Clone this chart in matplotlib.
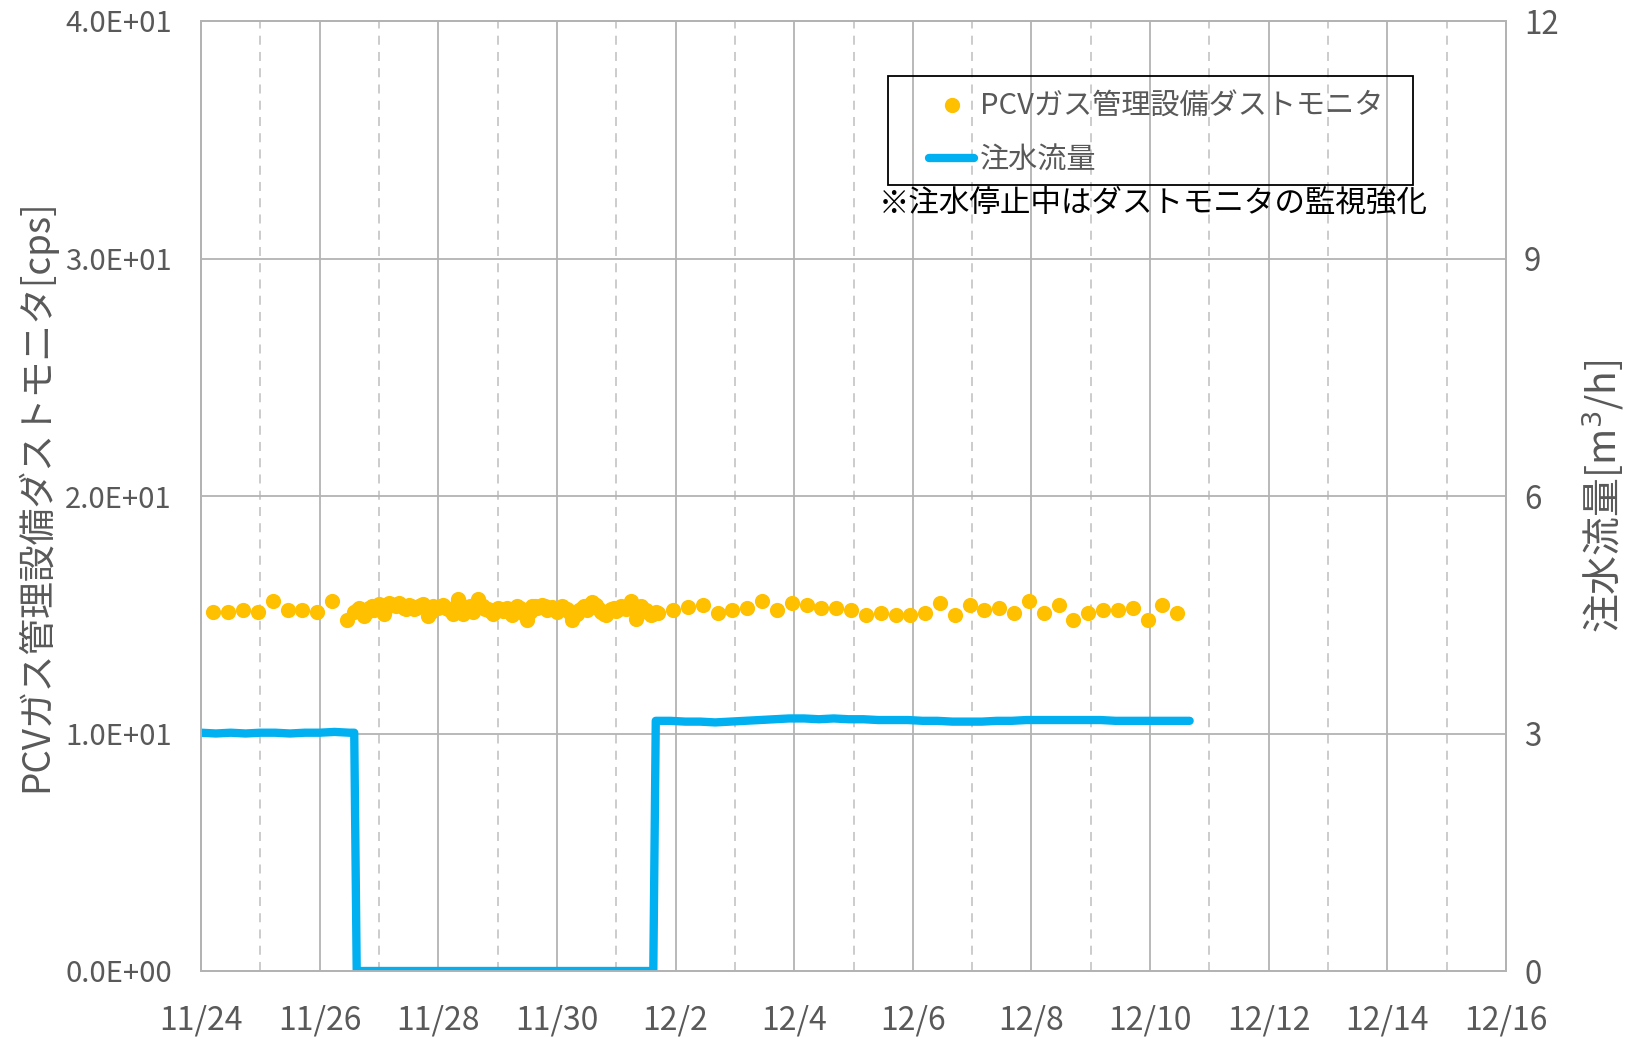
import matplotlib
matplotlib.use("Agg")
import matplotlib.pyplot as plt
import matplotlib.dates as mdates
from matplotlib.ticker import FixedLocator, FuncFormatter
from matplotlib.lines import Line2D
from matplotlib.patches import Rectangle
import pandas as pd

plt.rcParams['font.family'] = ['Noto Sans CJK JP', 'DejaVu Sans']

START = pd.Timestamp("2019-11-24 00:00")

# ---- dust monitor (cps), hours since 11/24 00:00 ----
dust_early_hours = [5, 11, 17, 23, 29, 35, 41, 47, 53, 59]
dust_early = [15.10, 15.10, 15.19, 15.10, 15.59, 15.19, 15.19, 15.10, 15.59, 14.77]

dust_dense_hours = list(range(62, 185))
dust_dense = [15.10, 15.20, 15.28, 15.22, 14.95, 15.10, 15.30, 15.35, 15.22, 15.30, 15.45, 15.38,
              15.05, 15.30, 15.50, 15.45, 15.40, 15.35, 15.48, 15.40, 15.30, 15.25, 15.42, 15.35,
              15.25, 15.30, 15.35, 15.40, 15.45, 15.30, 14.95, 15.10, 15.38, 15.30, 15.30, 15.35,
              15.42, 15.30, 15.25, 15.15, 15.05, 15.35, 15.65, 15.40, 15.02, 15.10, 15.30, 15.35,
              15.10, 15.40, 15.66, 15.45, 15.35, 15.25, 15.25, 15.15, 15.05, 15.20, 15.30, 15.25,
              15.15, 15.20, 15.28, 15.10, 14.98, 15.15, 15.35, 15.30, 15.20, 15.00, 14.78, 15.10,
              15.38, 15.35, 15.30, 15.38, 15.40, 15.35, 15.22, 15.28, 15.32, 15.25, 15.10, 15.25,
              15.38, 15.30, 15.25, 15.10, 14.78, 14.95, 15.05, 15.20, 15.30, 15.35, 15.20, 15.40,
              15.55, 15.45, 15.40, 15.25, 15.10, 15.05, 15.00, 15.15, 15.25, 15.30, 15.15, 15.25,
              15.35, 15.30, 15.25, 15.40, 15.58, 15.20, 14.82, 15.05, 15.35, 15.25, 15.20, 15.10,
              15.00, 15.05, 15.10]

dust_late_hours = list(range(185, 185 + 6 * 36, 6))
dust_late = [15.08, 15.19, 15.32, 15.40, 15.09, 15.18, 15.29, 15.59, 15.18, 15.49,
             15.39, 15.29, 15.29, 15.19, 14.98, 15.09, 14.98, 14.98, 15.09, 15.49,
             14.98, 15.39, 15.19, 15.29, 15.09, 15.59, 15.09, 15.39, 14.78, 15.09,
             15.19, 15.19, 15.29, 14.78, 15.39, 15.09]

# ---- water injection flow (m3/h) ----
flow_hours = ([0, 6, 12, 18, 24, 30, 36, 42, 48, 54, 60, 62, 63, 183]
              + list(range(184, 184 + 6 * 37, 6)))
flow_vals = ([3.01, 3.00, 3.01, 3.00, 3.01, 3.01, 3.00, 3.01, 3.01, 3.02, 3.01, 3.01, 0.0, 0.0]
             + [3.16, 3.16, 3.15, 3.15, 3.14, 3.15, 3.16, 3.17, 3.18, 3.19,
                3.19, 3.18, 3.19, 3.18, 3.18, 3.17, 3.17, 3.17, 3.16, 3.16,
                3.15, 3.15, 3.15, 3.16, 3.16, 3.17, 3.17, 3.17, 3.17, 3.17,
                3.17, 3.16, 3.16, 3.16, 3.16, 3.16, 3.16])

x_tick_labels = ["11/24", "11/26", "11/28", "11/30", "12/2", "12/4", "12/6",
                 "12/8", "12/10", "12/12", "12/14", "12/16"]
left_ticks = [0, 10, 20, 30, 40]
right_ticks = [0, 3, 6, 9, 12]

def to_time(hours):
    return START + pd.to_timedelta(hours, unit="h")

dust_hours = dust_early_hours + dust_dense_hours + dust_late_hours
dust_vals = dust_early + dust_dense + dust_late

GRAY_TXT = "#595959"
GRID = "#B3B3B3"
W, H = 1632, 1037

fig = plt.figure(figsize=(16.32, 10.37), dpi=100)
ax = fig.add_axes([201 / W, 1 - 971 / H, 1305 / W, 950 / H])
ax2 = ax.twinx()

ax.scatter(to_time(dust_hours), dust_vals, s=120, color="#FFC000", zorder=3,
           linewidths=0, label="PCVガス管理設備ダストモニタ")
ax2.plot(to_time(flow_hours), flow_vals, color="#00B0F0", lw=6,
         solid_joinstyle="round", solid_capstyle="round", label="注水流量")

ax.set_xlim(START, START + pd.Timedelta(days=22))
ax.set_ylim(0, 40)
ax2.set_ylim(0, 12)

major_locs = [START + pd.Timedelta(days=2 * i) for i in range(12)]
minor_locs = [START + pd.Timedelta(days=2 * i + 1) for i in range(11)]
ax.xaxis.set_major_locator(FixedLocator(mdates.date2num(major_locs)))
ax.xaxis.set_minor_locator(FixedLocator(mdates.date2num(minor_locs)))
ax.set_xticklabels(x_tick_labels)

ax.yaxis.set_major_locator(FixedLocator(left_ticks))
ax.yaxis.set_major_formatter(FuncFormatter(lambda v, p: "%.1E" % v))
ax2.yaxis.set_major_locator(FixedLocator(right_ticks))
ax2.yaxis.set_major_formatter(FuncFormatter(lambda v, p: "%d" % v))

ax.grid(True, which="major", axis="both", color=GRID, lw=1.3, ls="-")
ax.grid(True, which="minor", axis="x", color="#C8C8C8", lw=1.3, ls=(0, (5, 4)))
ax.set_axisbelow(True)

for a in (ax, ax2):
    a.tick_params(axis="both", which="both", length=0, labelcolor=GRAY_TXT)
    for s in a.spines.values():
        s.set_color(GRID)
        s.set_linewidth(1.3)
ax.tick_params(axis="x", labelsize=23, pad=24)
ax.tick_params(axis="y", labelsize=21, pad=21)
ax2.tick_params(axis="y", labelsize=22.5, pad=13)

ax.set_ylabel("PCVガス管理設備ダストモニタ[cps]", fontsize=26.5, color=GRAY_TXT)
ax.yaxis.set_label_coords(-0.111, 0.5)
ax2.set_ylabel("注水流量[m$^3$/h]", fontsize=28, color=GRAY_TXT)
ax2.yaxis.set_label_coords(1.0565, 0.5)

# legend frame box
fig.patches.append(Rectangle((888 / W, 1 - 185 / H), (1413 - 888) / W, (185 - 76) / H,
                             transform=fig.transFigure, fill=False,
                             edgecolor="black", lw=1.3, zorder=5))

handles = [Line2D([], [], ls="none", marker="o", ms=10, color="#FFC000"),
           Line2D([], [], color="#00B0F0", lw=6, solid_capstyle="round")]
leg = fig.legend(handles, ["PCVガス管理設備ダストモニタ", "注水流量"],
                 loc="upper left", bbox_to_anchor=(929 / W, 1 - 92 / H),
                 frameon=False, fontsize=21, labelcolor=GRAY_TXT,
                 handlelength=1.55, handletextpad=0.2, borderpad=0,
                 labelspacing=0.8, borderaxespad=0)

fig.text(1153 / W, 1 - 203 / H, "※注水停止中はダストモニタの監視強化",
         fontsize=22, color="black", ha="center", va="center")

fig.savefig("out.png", dpi=100)
